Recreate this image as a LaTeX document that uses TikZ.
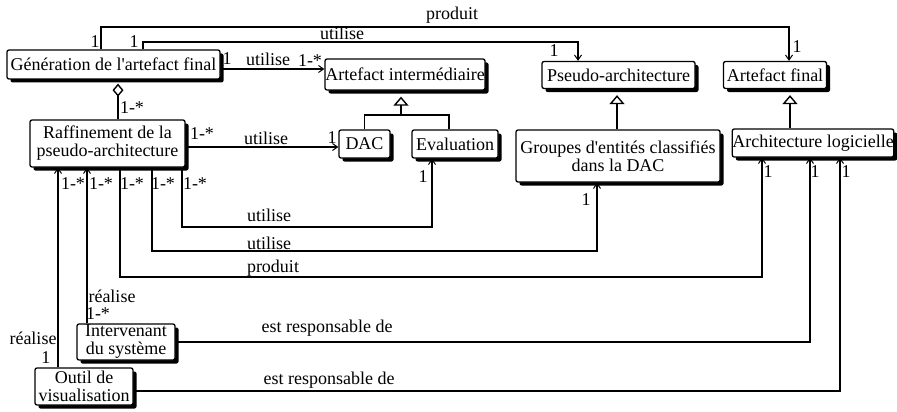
\documentclass[tikz,border=0pt]{standalone}
\usepackage{fontspec}
\setmainfont{Liberation Serif}
\usetikzlibrary{arrows.meta,shadows}
\begin{document}
\begin{tikzpicture}[x=1pt,y=-1pt,
  font=\fontsize{18}{18}\selectfont,
  box/.style={draw, line width=1.3pt, rounded corners=2pt, fill=white, align=center, inner sep=0pt,
    drop shadow={shadow xshift=3.5pt, shadow yshift=-3.5pt, fill=black, opacity=1}},
  lbl/.style={inner sep=0pt, anchor=center},
  conn/.style={line width=1.2pt},
  arr/.style={conn, -{Straight Barb[length=5pt,width=7pt,line width=1pt]}},
  inh/.style={line width=1.4pt, -{Triangle[open,length=9pt,width=15pt,line width=1.4pt]}, shorten >=6pt},
  agg/.style={line width=1.2pt, -{Diamond[open,length=13pt,width=11pt,line width=1.4pt]}, shorten >=4pt}
]
\useasboundingbox (0,0) rectangle (897,412);

% boxes
\node[box, minimum width=213pt, minimum height=29pt] (gen) at (113.5,64.5) {Génération de l\textquotesingle artefact final};
\node[box, minimum width=160pt, minimum height=31pt] (ai) at (405,74.5) {Artefact intermédiaire};
\node[box, minimum width=153pt, minimum height=27pt] (pa) at (618.5,75) {Pseudo-architecture};
\node[box, minimum width=103pt, minimum height=27pt] (af) at (775,75) {Artefact final};
\node[box, minimum width=155pt, minimum height=47pt] (raf) at (107.5,143.5) {Raffinement de la\\pseudo-architecture};
\node[box, minimum width=51pt, minimum height=28pt] (dac) at (364.5,144) {DAC};
\node[box, minimum width=86pt, minimum height=28pt] (ev) at (455,144) {Evaluation};
\node[box, minimum width=204pt, minimum height=52pt] (grp) at (618,156) {Groupes d\textquotesingle entités classifiés\\dans la DAC};
\node[box, minimum width=160pt, minimum height=28pt] (al) at (813,143) {Architecture logicielle};
\node[box, minimum width=98pt, minimum height=36pt] (int) at (126,342) {Intervenant\\du système};
\node[box, minimum width=98pt, minimum height=37pt] (out) at (84,386.5) {Outil de\\visualisation};

% inheritance
\coordinate (j1) at (401,115);
\draw[conn] (dac.north) -- (dac.north |- j1) -| (ev.north -| 449,0);
\draw[inh] (j1) -- (ai.south -| j1);
\draw[inh] (grp.north -| 617,0) -- (pa.south -| 617,0);
\draw[inh] (al.north -| 790,0) -- (af.south -| 790,0);

% aggregation
\draw[agg] (raf.north -| 118,0) -- (gen.south -| 118,0);
\node[lbl] (m1) at (132,108) {1-*};

% produit (gen -> af)
\draw[arr] (gen.north -| 101,0) -- (101,27) -| (af.north -| 789,0);
\node[lbl] (t1) at (452,15) {produit};
\node[lbl] (m2) at (95,42) {1};
\node[lbl] (m3) at (797,47) {1};

% utilise (gen -> pa)
\draw[arr] (gen.north -| 143,0) -- (143,42) -| (pa.north -| 578,0);
\node[lbl] (t2) at (342,33) {utilise};
\node[lbl] (m4) at (134,42) {1};
\node[lbl] (m5) at (554,51) {1};

% utilise (gen -> ai)
\draw[arr] (gen.east |- 0,69) -- (ai.west |- 0,69);
\node[lbl] (m6) at (227,59) {1};
\node[lbl] (t3) at (268,59) {utilise};
\node[lbl] (m7) at (310,61) {1-*};

% utilise (raf -> dac)
\draw[arr] (raf.east |- 0,147) -- (dac.west |- 0,147);
\node[lbl] (m8) at (202,134) {1-*};
\node[lbl] (t4) at (266,138) {utilise};
\node[lbl] (m9) at (332,138) {1};

% utilise (raf -> ev)
\draw[arr] (raf.south -| 182,0) -- (182,227) -| (ev.south -| 432,0);
\node[lbl] (m10) at (195,184) {1-*};
\node[lbl] (t5) at (269,215) {utilise};
\node[lbl] (m11) at (423,177) {1};

% utilise (raf -> grp)
\draw[arr] (raf.south -| 152,0) -- (152,251) -| (grp.south -| 597,0);
\node[lbl] (m12) at (163,184) {1-*};
\node[lbl] (t6) at (269,243) {utilise};
\node[lbl] (m13) at (586,200) {1};

% produit (raf -> al)
\draw[arr] (raf.south -| 120,0) -- (120,277) -| (al.south -| 762,0);
\node[lbl] (m14) at (132,184) {1-*};
\node[lbl] (t7) at (273,268) {produit};
\node[lbl] (m15) at (768,172) {1};

% est responsable de (int -> al)
\draw[arr] (int.east |- 0,342) -| (al.south -| 810,0);
\node[lbl] (t8) at (327,328) {est responsable de};
\node[lbl] (m16) at (815,172) {1};

% est responsable de (out -> al)
\draw[arr] (out.east |- 0,391) -| (al.south -| 840,0);
\node[lbl] (t9) at (329,380) {est responsable de};
\node[lbl] (m17) at (846,172) {1};

% réalise (out -> raf)
\draw[arr] (out.north -| 58,0) -- (raf.south -| 58,0);
\node[lbl] (t10) at (33,338) {réalise};
\node[lbl] (m18) at (46,358) {1};
\node[lbl] (m19) at (73,184) {1-*};

% réalise (int -> raf)
\draw[arr] (int.north -| 87,0) -- (raf.south -| 87,0);
\node[lbl] (t11) at (112,296) {réalise};
\node[lbl] (m20) at (98,314) {1-*};
\node[lbl] (m21) at (101,184) {1-*};
\end{tikzpicture}
\end{document}
